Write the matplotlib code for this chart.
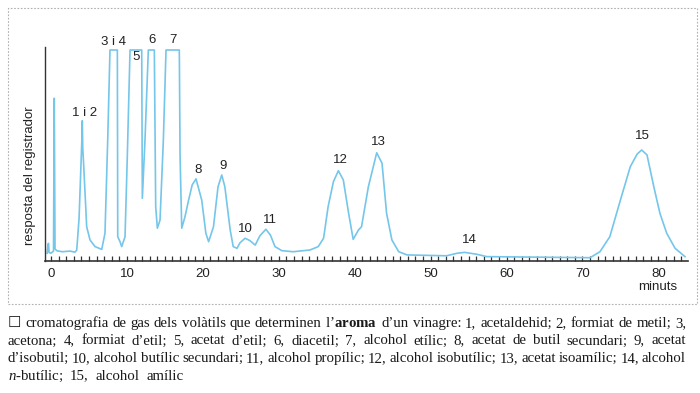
import matplotlib
matplotlib.use("Agg")
import matplotlib.pyplot as plt
from matplotlib.patches import Rectangle

# chromatogram trace (minutes, recorder response 0-100)
minuts = [-0.5, -0.4, -0.33, -0.25, 0.0, 0.33, 0.43, 0.53, 0.8, 1.5, 2.5, 3.16, 3.39,
          3.7, 4.0, 4.08, 4.12, 4.18, 4.3, 4.7, 5.14, 5.8, 6.68, 7.11, 7.47, 7.77,
          8.74, 8.79, 9.09, 9.31, 9.75, 10.05, 10.41, 11.95, 12.03, 12.38, 12.82,
          13.61, 13.79, 14.01, 14.36, 14.80, 15.15, 16.90, 17.0, 17.22, 17.65, 18.1,
          18.6, 19.1, 19.85, 20.4, 20.76, 21.4, 22.0, 22.49, 22.9, 23.6, 24.0, 24.5,
          24.9, 25.56, 26.2, 26.9, 27.5, 28.3, 28.9, 29.5, 30.4, 31.9, 34.1, 35.2,
          35.9, 36.5, 37.2, 37.85, 38.5, 39.2, 39.8, 40.5, 40.9, 41.8, 42.9, 43.6,
          44.2, 44.9, 45.8, 46.9, 52.1, 53.5, 54.5, 56.1, 57.4, 65.7, 71.0, 72.3,
          73.6, 75.0, 76.3, 77.2, 77.8, 78.5, 79.4, 80.2, 81.1, 82.2, 83.5]
resposta = [3.5, 7.5, 8.1, 3.8, 3.5, 4.5, 76.0, 5.5, 4.6, 4.2, 4.5, 4.0, 5.0,
            20.0, 50.0, 58.0, 65.5, 53.0, 45.0, 15.9, 9.7, 6.6, 5.3, 12.8, 56.5, 98.6,
            98.6, 11.2, 8.9, 6.6, 11.2, 48.7, 98.6, 98.6, 29.2, 56.5, 98.6,
            98.6, 25.3, 15.2, 19.0, 56.5, 98.6, 98.6, 48.7, 15.2, 20.6, 28.0,
            35.5, 38.3, 28.4, 12.8, 8.9, 15.9, 34.6, 40.1, 34.6, 14.4, 6.6, 5.8,
            8.4, 10.5, 9.4, 7.3, 11.6, 14.7, 12.0, 6.6, 4.7, 4.2, 5.0, 6.6,
            10.5, 25.3, 37.0, 42.1, 37.8, 22.2, 10.0, 14.4, 15.9, 34.6, 50.5, 45.6,
            22.2, 9.7, 4.2, 2.7, 2.3, 3.5, 3.9, 3.0, 1.9, 1.6, 1.4, 4.2,
            11.2, 28.4, 44.0, 49.9, 51.8, 49.5, 34.6, 22.2, 12.8, 5.8, 1.9]

pic_labels = ["1 i 2", "3 i 4", "5", "6", "7", "8", "9", "10", "11", "12", "13", "14", "15"]
pic_x = [4.44, 8.21, 11.16, 13.27, 16.11, 19.41, 22.62, 25.65, 28.85, 38.08, 43.12, 55.07, 77.83]
pic_y = [69.3, 102.2, 95.2, 103.3, 103.3, 42.4, 44.3, 14.7, 19.0, 47.1, 55.7, 9.7, 58.5]

tick_vals = [0, 10, 20, 30, 40, 50, 60, 70, 80]

caption = [
    "☐ cromatografia de gas dels volàtils que determinen l'$\\mathbf{aroma}$ d'un vinagre: 1, acetaldehid; 2, formiat de metil; 3,",
    "acetona; 4, formiat d'etil; 5, acetat d'etil; 6, diacetil; 7, alcohol etílic; 8, acetat de butil secundari; 9, acetat",
    "d'isobutil; 10, alcohol butílic secundari; 11, alcohol propílic; 12, alcohol isobutílic; 13, acetat isoamílic; 14, alcohol",
    "$\\mathit{n}$-butílic; 15, alcohol amílic",
]

plt.rcParams["mathtext.fontset"] = "custom"
plt.rcParams["mathtext.rm"] = "Liberation Serif"
plt.rcParams["mathtext.bf"] = "Liberation Serif:bold"
plt.rcParams["mathtext.it"] = "Liberation Serif:italic"

W, H = 700, 393
blue = "#74c6ea"
ink = "#333333"

fig = plt.figure(figsize=(7, 3.93), dpi=100)
fig.patch.set_facecolor("white")

# dotted frame around the graph
fig.patches.append(Rectangle((8 / W, 1 - 304 / H), 689 / W, 296 / H, transform=fig.transFigure,
                             fill=False, ec="#b0b0b0", lw=0.8, ls=(0, (1.5, 1.5))))

ax = fig.add_axes([45 / W, 1 - 260.7 / H, 643 / W, 213.7 / H])
ax.plot(minuts, resposta, color=blue, lw=1.2, solid_joinstyle="round")
ax.set_xlim(-0.79, 83.9)
ax.set_ylim(0, 100)
for s in ["top", "right"]:
    ax.spines[s].set_visible(False)
ax.spines["left"].set_color(ink)
ax.spines["bottom"].set_color(ink)
ax.spines["left"].set_linewidth(1.0)
ax.spines["bottom"].set_linewidth(1.2)
ax.set_yticks([])
ax.set_xticks(tick_vals)
ax.set_xticks(range(0, 84), minor=True)
ax.tick_params(axis="x", which="both", direction="in", length=3.5, width=0.9, color=ink)
ax.tick_params(axis="x", which="major", pad=5, labelsize=9.5, labelcolor="#222222")
for lb in ax.get_xticklabels():
    lb.set_family("Liberation Sans")

for lab, x, y in zip(pic_labels, pic_x, pic_y):
    ax.text(x, y, lab, ha="center", va="center", fontsize=9.5, color="#222222",
            family="Liberation Sans", clip_on=False)

fig.text(657.7 / W, 1 - 287 / H, "minuts", ha="center", va="center", fontsize=9.5,
         color="#222222", family="Liberation Sans")
fig.text(30 / W, 1 - 176 / H, "resposta del registrador", rotation=90, ha="center",
         va="center", fontsize=9.5, color="#222222", family="Liberation Sans")

# justified caption, placed word by word on a common baseline
fam = ["Liberation Serif", "DejaVu Sans"]
x0, x1 = 8, 686
line_base = [327, 344.5, 362, 379.5]
renderer = fig.canvas.get_renderer()


def draw_word(word, x, y, fs, draw=True):
    t = fig.text(x / W, 1 - y / H, word, fontsize=fs, family=fam,
                 va="baseline", ha="left", color="#1a1a1a")
    w = t.get_window_extent(renderer).width
    if not draw:
        t.remove()
    return w


lines = [ln.replace("'", "\u2019").split(" ") for ln in caption]

# font size chosen so the first line just fits with plain spaces
ref_fs = 10.0
words = lines[0]
natural = sum(draw_word(wd, 0, 0, ref_fs, draw=False) for wd in words)
natural += (len(words) - 1) * 0.25 * ref_fs * 100 / 72
fs = ref_fs * (x1 - x0) / natural
space = 0.25 * fs * 100 / 72

for i, words in enumerate(lines):
    widths = [draw_word(wd, 0, 0, fs, draw=False) for wd in words]
    if i < len(lines) - 1:
        gap = max((x1 - x0 - sum(widths)) / (len(words) - 1), space * 0.45)
    else:
        gap = space * 1.8
    x = x0
    for wd, wdt in zip(words, widths):
        draw_word(wd, x, line_base[i], fs)
        x += wdt + gap

fig.savefig("out.png", dpi=100, facecolor="white")
